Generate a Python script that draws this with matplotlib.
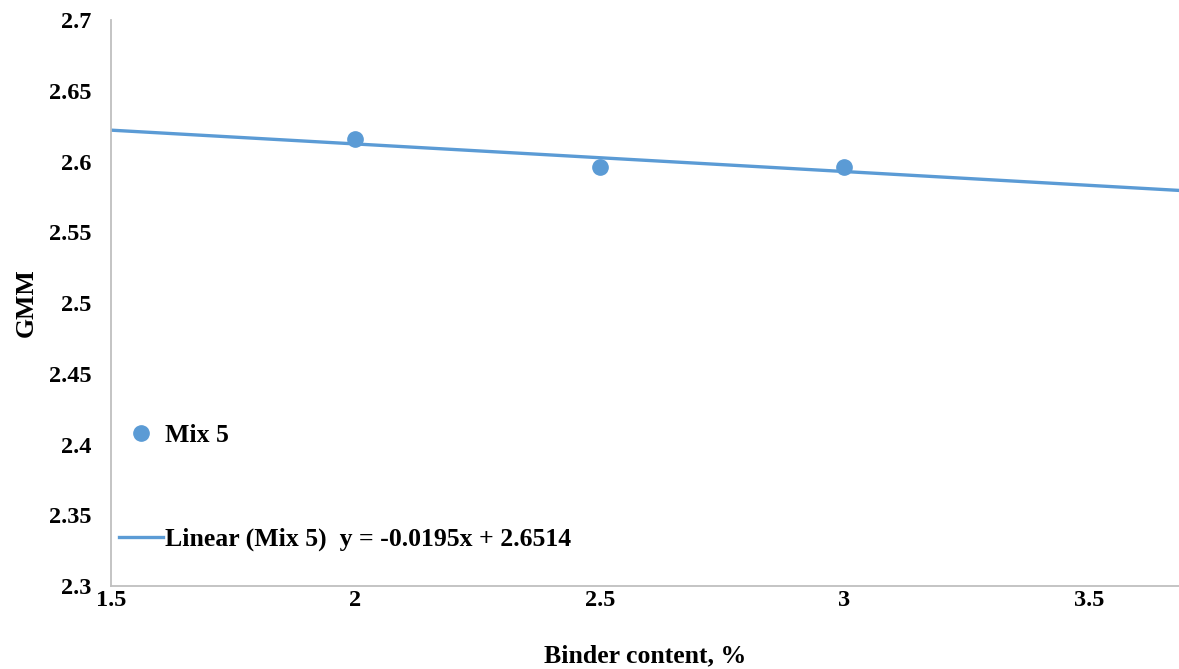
import numpy as np
import matplotlib.pyplot as plt

binder = [2.0, 2.5, 3.0]
gmm = [2.6157, 2.5962, 2.5962]
xticks = [1.5, 2, 2.5, 3, 3.5]
yticks = [2.3, 2.35, 2.4, 2.45, 2.5, 2.55, 2.6, 2.65, 2.7]

plt.rcParams['font.family'] = ['Liberation Serif', 'DejaVu Serif']
plt.rcParams['font.weight'] = 'bold'
blue = "#5B9BD5"

fig = plt.figure(figsize=(11.79, 6.69), dpi=100)
ax = fig.add_axes([0.0941, 0.124, 0.9059, 0.846])

slope, icpt = np.polyfit(binder, gmm, 1)
xl = np.array([1.5, 3.684])
ax.plot(xl, slope * xl + icpt, color=blue, lw=2.4,
        label="Linear (Mix 5)  y = -0.0195x + 2.6514", zorder=2)
ax.plot(binder, gmm, "o", color=blue, ms=11, label="Mix 5", zorder=3)

ax.set_xlim(1.5, 3.684)
ax.set_ylim(2.3, 2.7)
ax.set_xticks(xticks)
ax.set_xticklabels([str(t) for t in xticks])
ax.set_yticks(yticks)
ax.set_yticklabels([f"{t:g}" for t in yticks])
ax.tick_params(length=0, labelsize=17.5)
ax.tick_params(axis="x", pad=3)
ax.tick_params(axis="y", pad=14)
for s in ["top", "right"]:
    ax.spines[s].set_visible(False)
for s in ["left", "bottom"]:
    ax.spines[s].set_color("#BFBFBF")
    ax.spines[s].set_linewidth(1.3)

ax.set_xlabel("Binder content, %", fontsize=18.5, fontweight="bold", labelpad=24)
ax.set_ylabel("GMM", fontsize=18.5, fontweight="bold", labelpad=8)

h, l = ax.get_legend_handles_labels()
ax.legend(h[::-1], l[::-1], loc="upper left", bbox_to_anchor=(-0.002, 0.305),
          frameon=False, fontsize=18.5, labelspacing=3.15, handlelength=1.7,
          handletextpad=0.1, borderaxespad=0)

fig.savefig("out.png", dpi=100)
